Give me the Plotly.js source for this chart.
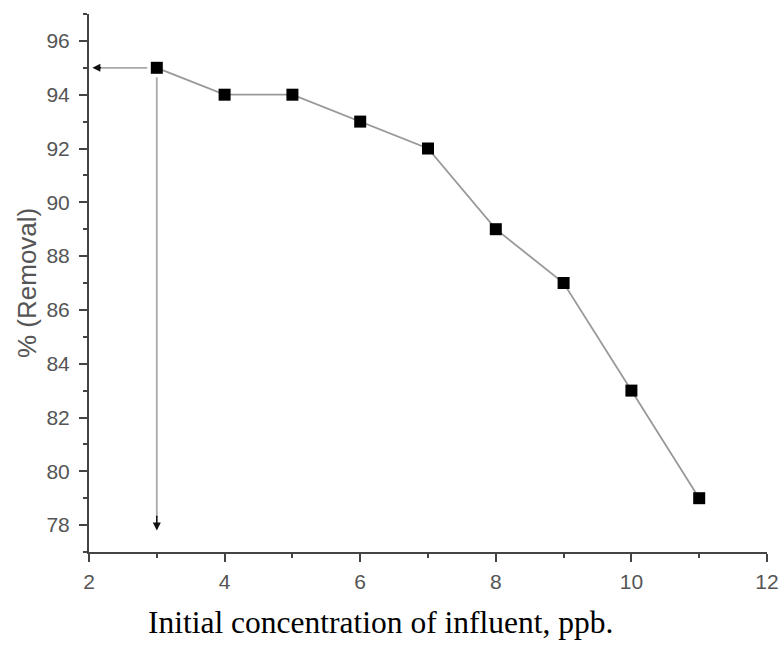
<!DOCTYPE html>
<html>
<head>
<meta charset="utf-8">
<script src="https://cdn.plot.ly/plotly-3.0.1.min.js"></script>
<style>html,body{margin:0;padding:0;background:#fff;}#chart{width:782px;height:658px;}</style>
</head>
<body>
<div id="chart"></div>
<script>
const concentration = [3, 4, 5, 6, 7, 8, 9, 10, 11];
const removal = [95, 94, 94, 93, 92, 89, 87, 83, 79];
const xTicks = [2, 4, 6, 8, 10, 12];
const yTicks = [78, 80, 82, 84, 86, 88, 90, 92, 94, 96];
const xTitle = "Initial concentration of influent, ppb.";
const yTitle = "% (Removal)";
const markX = 3, markY = 95;

const trace = {
  x: concentration, y: removal, type: 'scatter', mode: 'lines+markers',
  line: {color: '#999', width: 1.8},
  marker: {symbol: 'square', size: 12, color: '#000'},
  hoverinfo: 'skip'
};

const axisCommon = {
  showgrid: false, zeroline: false, showline: true, linecolor: '#444', linewidth: 2,
  ticks: 'outside', ticklen: 8, tickwidth: 2, tickcolor: '#444', ticklabelstandoff: 5,
  tickfont: {family: 'Liberation Sans, Arial, sans-serif', size: 21, color: '#555'},
  minor: {ticks: 'outside', ticklen: 4, tickwidth: 2, tickcolor: '#444', dtick: 1}
};

const layout = {
  width: 782, height: 658,
  margin: {l: 89, r: 15, t: 14, b: 106},
  paper_bgcolor: '#fff', plot_bgcolor: '#fff',
  showlegend: false,
  xaxis: Object.assign({}, axisCommon, {range: [2, 12], tickvals: xTicks, ticktext: xTicks.map(String), ticklabelstandoff: 2, minor: Object.assign({}, axisCommon.minor, {tickvals: [3,5,7,9,11]})}),
  yaxis: Object.assign({}, axisCommon, {range: [77, 97], tickvals: yTicks, ticktext: yTicks.map(String), minor: Object.assign({}, axisCommon.minor, {tickvals: [77,79,81,83,85,87,89,91,93,95,97]})}),
  shapes: [
    {type: 'line', xref: 'x', yref: 'y', x0: 2.1, x1: markX - 0.14, y0: markY, y1: markY, line: {color: '#aaa', width: 1.8}},
    {type: 'line', xref: 'x', yref: 'y', x0: markX, x1: markX, y0: markY - 0.35, y1: 78.3, line: {color: '#aaa', width: 1.8}}
  ],
  annotations: [
    {x: 2.05, y: markY, xref: 'x', yref: 'y', ax: 2.2, ay: markY, axref: 'x', ayref: 'y', showarrow: true, arrowhead: 2, arrowsize: 1, arrowwidth: 1.6, arrowcolor: '#111', text: ''},
    {x: markX, y: 77.8, xref: 'x', yref: 'y', ax: markX, ay: 78.4, axref: 'x', ayref: 'y', showarrow: true, arrowhead: 2, arrowsize: 1, arrowwidth: 1.6, arrowcolor: '#111', text: ''},
    {text: xTitle, showarrow: false, xref: 'paper', yref: 'paper', xanchor: 'center', yanchor: 'middle',
     x: (380 - 89) / (782 - 89 - 15), y: -(622 - 552) / (658 - 14 - 106),
     font: {family: 'Liberation Serif, Times New Roman, serif', size: 31.5, color: '#000'}},
    {text: yTitle, showarrow: false, xref: 'paper', yref: 'paper', xanchor: 'center', yanchor: 'middle', textangle: -90,
     x: -(89 - 27) / (782 - 89 - 15), y: (552 - 283) / (658 - 14 - 106),
     font: {family: 'Liberation Sans, Arial, sans-serif', size: 26, color: '#555'}}
  ]
};

Plotly.newPlot('chart', [trace], layout, {staticPlot: true, displayModeBar: false});
</script>
</body>
</html>
